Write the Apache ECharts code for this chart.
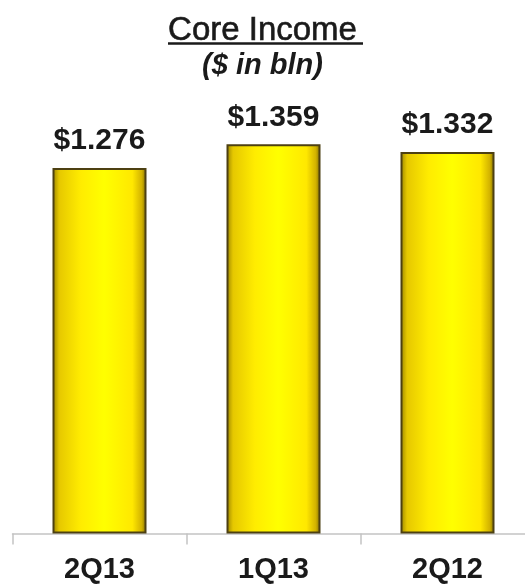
<!DOCTYPE html>
<html><head><meta charset="utf-8">
<script src="https://cdn.jsdelivr.net/npm/echarts@6/dist/echarts.min.js"></script>
<style>html,body{margin:0;padding:0;background:#fff}#c{width:525px;height:585px}</style>
</head><body><div id="c"></div>
<script>
const categories = ['2Q13', '1Q13', '2Q12'];
const values = [1.276, 1.359, 1.332];
const labels = ['$1.276', '$1.359', '$1.332'];

const chart = echarts.init(document.getElementById('c'), null, {renderer: 'canvas'});
const barFill = new echarts.graphic.LinearGradient(0, 0, 1, 0, [
  {offset: 0, color: '#9a8400'},
  {offset: 0.07, color: '#e6c800'},
  {offset: 0.3, color: '#ffec00'},
  {offset: 0.55, color: '#ffff00'},
  {offset: 0.85, color: '#ffe800'},
  {offset: 0.95, color: '#d2b200'},
  {offset: 1, color: '#7e6c00'}
]);
chart.setOption({
  animation: false,
  title: [{
    text: 'Core Income',
    left: 'center', top: 9,
    textStyle: {fontFamily: 'Liberation Sans, Arial', fontSize: 33, fontWeight: 'normal', color: '#1a1a1a',
      textBorderColor: '#1a1a1a', textBorderWidth: 0.6}
  }, {
    text: '($ in bln)',
    left: 'center', top: 46,
    textStyle: {fontFamily: 'Liberation Sans, Arial', fontSize: 29, fontWeight: 'bold', fontStyle: 'italic', color: '#1a1a1a'}
  }],
  graphic: [{
    type: 'line', shape: {x1: 168, y1: 43.5, x2: 363, y2: 43.5},
    style: {stroke: '#1a1a1a', lineWidth: 2.5}
  }],
  grid: {left: 12.5, width: 522, top: 75.3, bottom: 51.5, containLabel: false, outerBoundsMode: 'none'},
  xAxis: {
    type: 'category', data: categories, boundaryGap: true,
    axisLine: {lineStyle: {color: '#c4c4c4', width: 1.5}},
    axisTick: {show: true, length: 11, lineStyle: {color: '#c4c4c4', width: 1.5}},
    axisLabel: {margin: 22, fontFamily: 'Liberation Sans, Arial', fontSize: 29, fontWeight: 'bold', color: '#1a1a1a'}
  },
  yAxis: {type: 'value', min: 0, max: 1.6, show: false, splitLine: {show: false}},
  series: [{
    type: 'bar', data: values, barWidth: 94,
    itemStyle: {color: barFill, borderColor: '#4d4012', borderWidth: 2},
    label: {
      show: true, position: 'top', distance: 12,
      formatter: p => labels[p.dataIndex],
      fontFamily: 'Liberation Sans, Arial', fontSize: 30, fontWeight: 'bold', color: '#1a1a1a'
    }
  }]
});
</script></body></html>
